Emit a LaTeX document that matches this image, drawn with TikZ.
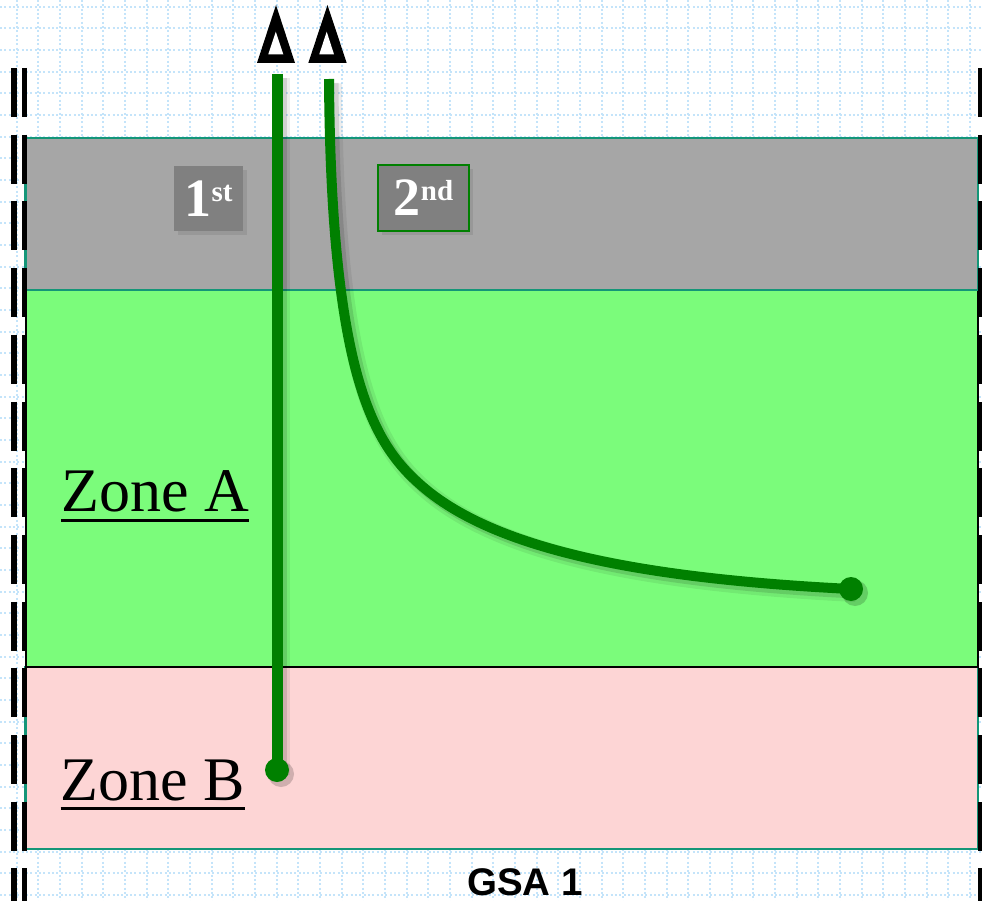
\documentclass[tikz,border=0pt]{standalone}
\usepackage{fontspec}
\setmainfont{Liberation Serif}
\newfontfamily\gsafont{Liberation Sans}
\usetikzlibrary{shadows}
\definecolor{gridc}{RGB}{196,228,250}
\definecolor{tealc}{RGB}{20,150,120}
\definecolor{grayband}{RGB}{166,166,166}
\definecolor{greenband}{RGB}{123,252,123}
\definecolor{pinkband}{RGB}{253,213,213}
\definecolor{boxgray}{RGB}{128,128,128}
\definecolor{wellgreen}{RGB}{0,128,0}
\tikzset{
  gridline/.style={draw=gridc, line width=2pt, dash pattern=on 2pt off 2.33pt},
  bordash/.style={draw=black, line width=5.6pt, dash pattern=on 49pt off 17.7pt},
  wellline/.style={draw=wellgreen, line width=11pt},
  shadowA/.style={draw=black, opacity=0.07, line width=17pt},
  shadowB/.style={draw=black, opacity=0.12, line width=11pt},
  ordbox/.style={fill=boxgray, text=white, inner sep=0pt, minimum width=69pt, minimum height=65pt,
    drop shadow={shadow xshift=4pt, shadow yshift=-4pt, opacity=0.35}},
  zone/.style={inner sep=0pt, anchor=base west, font=\fontsize{62}{62}\selectfont},
  uline/.style={line width=3.5pt},
}
\begin{document}
\begin{tikzpicture}[x=1pt,y=-1pt]
\useasboundingbox (0,0) rectangle (982,901);
\begin{scope}
\clip (0,0) rectangle (982,901);
% grid
\foreach \i in {0,...,45} { \draw[gridline] (16.6+21.667*\i,0) -- (16.6+21.667*\i,901); }
\foreach \j in {0,...,41} { \draw[gridline] (0,6.7+21.667*\j) -- (982,6.7+21.667*\j); }
% bands
\draw[tealc, line width=2.5pt, fill=pinkband] (25.7,667) rectangle (978,849);
\draw[black, line width=2pt, fill=greenband] (25.7,290) rectangle (978,667);
\draw[tealc, line width=2.5pt, fill=grayband] (25.7,138) rectangle (978,290);
% side dashed boundaries
\draw[bordash] (13.8,68) -- (13.8,920);
\draw[bordash] (24.5,68) -- (24.5,920);
\draw[bordash] (981,68) -- (981,920);
% labels
\node[ordbox] (first) at (208.5,198.5)
  {\bfseries\fontsize{54}{54}\selectfont 1\raisebox{15pt}{\fontsize{29}{29}\selectfont st}};
\node[ordbox, draw=wellgreen, line width=2pt, minimum width=91pt, minimum height=66pt] (second) at (423.5,198)
  {\bfseries\fontsize{54}{54}\selectfont 2\raisebox{15pt}{\fontsize{29}{29}\selectfont nd}};
\node[zone] (zA) at (61,511.7) {Zone A};
\draw[uline] ([yshift=-9pt]zA.base west) -- ([yshift=-9pt]zA.base east);
\node[zone] (zB) at (60.5,800) {Zone B};
\draw[uline] ([yshift=-8.3pt]zB.base west) -- ([yshift=-8.3pt]zB.base east);
\node[anchor=base, inner sep=0pt, font=\gsafont\bfseries\fontsize{38.5}{38.5}\selectfont] (gsa) at (525,895) {GSA 1};
% well symbols
\fill[black] (257,63) -- (276,5) -- (295,63) -- cycle;
\fill[white] (268.3,54.3) -- (275.8,31.7) -- (283.3,54.3) -- cycle;
\fill[black] (308.3,63) -- (327.5,5) -- (346.7,63) -- cycle;
\fill[white] (319.3,54.3) -- (326.7,31.7) -- (334,54.3) -- cycle;
% well paths
\coordinate (w1top) at (277,74);
\coordinate (w1end) at (277,770);
\coordinate (w2top) at (329,79);
\coordinate (w2mid) at (423,487);
\coordinate (w2end) at (851,589);
% shadows
\foreach \s/\st in {4.5/shadowA, 4/shadowB} {
  \draw[\st] ([shift={(\s,\s)}]w1top) -- ([shift={(\s,\s)}]w1end);
  \draw[\st] ([shift={(\s,\s)}]w2top) .. controls ([shift={(\s,\s)}]331,380) and ([shift={(\s,\s)}]375,446) .. ([shift={(\s,\s)}]w2mid)
     .. controls ([shift={(\s,\s)}]499,552) and ([shift={(\s,\s)}]651,579) .. ([shift={(\s,\s)}]w2end);
}
\fill[black, opacity=0.18] ([shift={(4,4)}]w1end) circle (13);
\fill[black, opacity=0.18] ([shift={(4,4)}]w2end) circle (13);
% lines
\draw[wellline] (w1top) -- (w1end);
\draw[wellline, line width=10pt] (w2top) .. controls (331,380) and (375,446) .. (w2mid)
   .. controls (499,552) and (651,579) .. (w2end);
\fill[wellgreen] (w1end) circle (12);
\fill[wellgreen] (w2end) circle (12);
\end{scope}
\end{tikzpicture}
\end{document}
